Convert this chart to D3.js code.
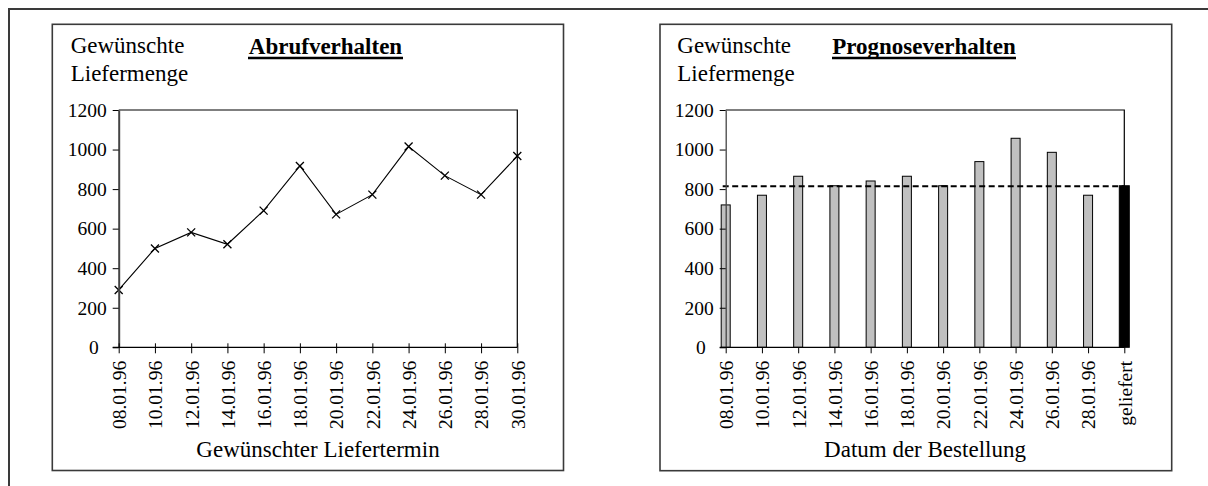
<!DOCTYPE html>
<html>
<head>
<meta charset="utf-8">
<script src="https://cdn.jsdelivr.net/npm/d3@7"></script>
<style>
  html, body { margin: 0; padding: 0; background: #fff; }
  svg { display: block; font-family: "Liberation Serif", "Times New Roman", serif; }
</style>
</head>
<body>
<svg id="chart" width="1208" height="486"></svg>
<script>
// ---- data ----
const leftDates = ["08.01.96","10.01.96","12.01.96","14.01.96","16.01.96","18.01.96","20.01.96","22.01.96","24.01.96","26.01.96","28.01.96","30.01.96"];
const leftValues = [290, 500, 581, 521, 691, 917, 672, 772, 1015, 868, 772, 967];

const rightCats = ["08.01.96","10.01.96","12.01.96","14.01.96","16.01.96","18.01.96","20.01.96","22.01.96","24.01.96","26.01.96","28.01.96","geliefert"];
const rightValues = [720, 769, 865, 817, 841, 865, 817, 939, 1057, 986, 769, 817];
const deliveredLevel = 815;

const yTicks = [0, 200, 400, 600, 800, 1000, 1200];
const yLabelLines = ["Gewünschte", "Liefermenge"];
const leftTitle = "Abrufverhalten";
const rightTitle = "Prognoseverhalten";
const leftXTitle = "Gewünschter Liefertermin";
const rightXTitle = "Datum der Bestellung";

// ---- drawing ----
const svg = d3.select("#chart");
const frameColor = "#3a3a3a";

// outer frame (top and left edges visible)
svg.append("path")
  .attr("d", "M9,486 L9,9 L1208,9")
  .attr("fill", "none").attr("stroke", frameColor).attr("stroke-width", 2);

function panel(cfg) {
  const g = svg.append("g");
  // box
  g.append("rect")
    .attr("x", cfg.box[0]).attr("y", cfg.box[1])
    .attr("width", cfg.box[2] - cfg.box[0]).attr("height", cfg.box[3] - cfg.box[1])
    .attr("fill", "none").attr("stroke", frameColor).attr("stroke-width", 1.6);

  const y = d3.scaleLinear().domain([0, 1200]).range([347.3, 110]);
  const x = d3.scalePoint().domain(cfg.cats).range([cfg.x0, cfg.x1]);

  // plot frame top & right
  g.append("path")
    .attr("d", `M${cfg.x0},${y(1200)} L${cfg.x1},${y(1200)} L${cfg.x1},${y(0)}`)
    .attr("fill", "none").attr("stroke", "#000").attr("stroke-width", 1.2);

  // y-axis label
  const yl = g.append("text").attr("font-size", 23).attr("fill", "#000");
  yLabelLines.forEach((t, i) => {
    yl.append("tspan").attr("x", cfg.yLabelX).attr("y", 53 + i * 28).text(t);
  });

  // title
  g.append("text")
    .attr("x", cfg.titleX).attr("y", 54)
    .attr("text-anchor", "middle")
    .attr("font-size", 23).attr("font-weight", "bold")
    .text(cfg.title);
  const tw = cfg.titleW;
  g.append("line")
    .attr("x1", cfg.titleX - tw / 2).attr("x2", cfg.titleX + tw / 2)
    .attr("y1", 58).attr("y2", 58)
    .attr("stroke", "#000").attr("stroke-width", 2.5);

  // marks
  cfg.drawMarks(g, x, y);

  // y axis
  const ya = g.append("g")
    .attr("transform", `translate(${cfg.x0},0)`)
    .call(d3.axisLeft(y).tickValues(yTicks).tickFormat(d3.format("d"))
      .tickSize(6).tickSizeOuter(0).tickPadding(6));
  ya.select(".domain").attr("stroke", "#444").attr("stroke-width", cfg.yAxisW);
  ya.selectAll(".tick line").attr("stroke", "#000");
  ya.selectAll(".tick text")
    .attr("font-family", "Liberation Serif, Times New Roman, serif")
    .attr("font-size", 19.5).attr("fill", "#000")
    .attr("dx", d => d === 0 ? -8 : 0);

  // x axis
  const xa = g.append("g")
    .attr("transform", `translate(0,${y(0)})`)
    .call(d3.axisBottom(x).tickSizeOuter(0));
  xa.select(".domain").attr("stroke", "#000").attr("stroke-width", 1.2)
    .attr("d", `M${cfg.x0 - 6},0H${cfg.x1}`);
  xa.selectAll(".tick line").attr("stroke", "#000")
    .attr("y1", cfg.tickUp).attr("y2", 6);
  xa.selectAll(".tick text")
    .attr("font-family", "Liberation Serif, Times New Roman, serif")
    .attr("font-size", 19.5).attr("fill", "#000")
    .attr("transform", "rotate(-90)")
    .attr("text-anchor", "end")
    .attr("x", -13.5).attr("y", 0).attr("dy", "0.35em");

  // x-axis title
  g.append("text")
    .attr("x", cfg.xTitleX).attr("y", 457)
    .attr("text-anchor", "middle").attr("font-size", 23)
    .text(cfg.xTitle);
}

panel({
  box: [52.3, 24.3, 563.5, 470.5],
  cats: leftDates, x0: 118.7, x1: 517.3,
  yLabelX: 70.7, title: leftTitle, titleX: 325.5, titleW: 155,
  xTitle: leftXTitle, xTitleX: 318, tickUp: -4, yAxisW: 2,
  drawMarks(g, x, y) {
    const line = d3.line().x((d, i) => x(leftDates[i])).y(d => y(d));
    g.append("path").datum(leftValues)
      .attr("d", line).attr("fill", "none")
      .attr("stroke", "#000").attr("stroke-width", 1.1);
    g.selectAll(".mk").data(leftValues).enter().append("path")
      .attr("d", (d, i) => {
        const cx = x(leftDates[i]), cy = y(d), r = 4;
        return `M${cx - r},${cy - r}L${cx + r},${cy + r}M${cx - r},${cy + r}L${cx + r},${cy - r}`;
      })
      .attr("stroke", "#000").attr("stroke-width", 1.3).attr("fill", "none");
  }
});

panel({
  box: [660, 24.3, 1171.7, 470.7],
  cats: rightCats, x0: 725.7, x1: 1124.3,
  yLabelX: 677.3, title: rightTitle, titleX: 924, titleW: 184,
  xTitle: rightXTitle, xTitleX: 925, tickUp: 0, yAxisW: 1.3,
  drawMarks(g, x, y) {
    g.selectAll(".bar").data(rightValues).enter().append("rect")
      .attr("x", (d, i) => x(rightCats[i]) - (i === rightCats.length - 1 ? 5 : 4.5))
      .attr("width", (d, i) => i === rightCats.length - 1 ? 10 : 9)
      .attr("y", d => y(d))
      .attr("height", d => y(0) - y(d))
      .attr("fill", (d, i) => i === rightCats.length - 1 ? "#000" : "#c0c0c0")
      .attr("stroke", "#000").attr("stroke-width", 1);
    g.append("line")
      .attr("x1", x(rightCats[0]) - 3).attr("x2", x(rightCats[rightCats.length - 1]))
      .attr("y1", y(deliveredLevel)).attr("y2", y(deliveredLevel))
      .attr("stroke", "#000").attr("stroke-width", 2)
      .attr("stroke-dasharray", "6,3.5");
  }
});
</script>
</body>
</html>
